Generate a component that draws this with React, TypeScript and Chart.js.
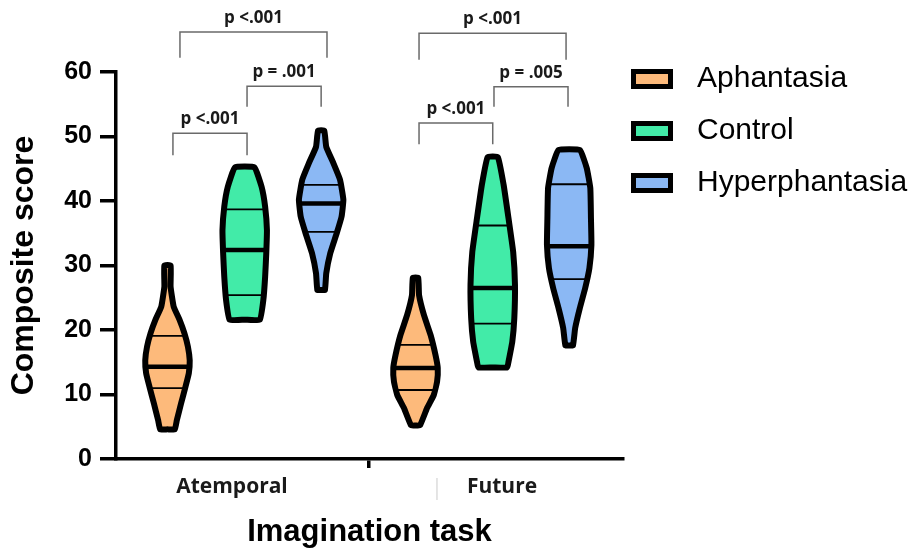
import React, { useEffect, useRef } from 'react';
import { Chart, registerables } from 'chart.js';

Chart.register(...registerables);

// ---------- categories ----------
const taskLabels = ['Atemporal', 'Future'];
const groupLabels = ['Aphantasia', 'Control', 'Hyperphantasia'];
const groupColors = ['#FDBA7B', '#42EBA8', '#8BB8F4'];

// x positions (axis units) of the task groups and group offsets
const taskCenters = [1.65, 4.83];
const groupOffsets = [-0.99, 0, 0.98];

// x-axis tick positions and labels
const xTickValues = [1.487, 3.244, 4.949];
const xTickLabels = ['Atemporal', '', 'Future'];

// ---------- violin profiles (score level -> relative density width) ----------
// Atemporal
const atemporalAphLevels = [4.6, 6.0, 8.6, 11.2, 13.3, 15.3, 17.4, 19.5, 21.6, 23.6, 26.7, 30.0];
const atemporalAphDensity = [0.33, 0.42, 0.61, 0.81, 0.96, 1.0, 0.92, 0.76, 0.54, 0.28, 0.14, 0.14];
const atemporalAphQuartiles = [11.0, 14.3, 19.1];

const atemporalCtrlLevels = [21.6, 24.7, 28.3, 31.9, 35.5, 39.1, 42.2, 45.2];
const atemporalCtrlDensity = [0.68, 0.84, 0.92, 0.97, 1.0, 0.92, 0.76, 0.44];
const atemporalCtrlQuartiles = [25.4, 32.4, 38.7];

const atemporalHypLevels = [26.2, 28.8, 31.9, 35.0, 37.6, 40.2, 43.3, 45.8, 48.4, 50.9];
const atemporalHypDensity = [0.17, 0.23, 0.41, 0.7, 0.92, 1.0, 0.85, 0.56, 0.23, 0.14];
const atemporalHypQuartiles = [35.2, 39.6, 42.5];

// Future
const futureAphLevels = [5.2, 7.9, 9.9, 12.0, 14.1, 16.1, 19.2, 22.3, 25.4, 28.1];
const futureAphDensity = [0.2, 0.52, 0.82, 0.97, 1.0, 0.9, 0.68, 0.38, 0.16, 0.12];
const futureAphQuartiles = [10.7, 14.1, 17.7];

const futureCtrlLevels = [14.2, 15.1, 18.2, 21.8, 27.0, 32.1, 37.3, 42.5, 46.8];
const futureCtrlDensity = [0.65, 0.71, 0.88, 0.97, 1.0, 0.92, 0.71, 0.49, 0.23];
const futureCtrlQuartiles = [21.0, 26.5, 36.2];

const futureHypLevels = [17.6, 20.3, 23.4, 26.5, 29.6, 33.2, 37.3, 42.0, 45.1, 47.9];
const futureHypDensity = [0.17, 0.27, 0.48, 0.72, 0.91, 1.0, 0.98, 0.95, 0.79, 0.48];
const futureHypQuartiles = [27.9, 33.0, 42.6];

// ---------- significance brackets ----------
const bracketX1 = [0.82, 1.68, 0.73, 3.885, 4.846, 3.885];
const bracketX2 = [2.705, 2.63, 1.68, 5.77, 5.795, 4.83];
const bracketTop = [66.2, 57.8, 50.5, 66.0, 57.7, 52.1];
const bracketBottom = [62.2, 54.6, 47.1, 61.9, 54.6, 48.8];
const bracketLabels = ['p <.001', 'p = .001', 'p <.001', 'p <.001', 'p = .005', 'p <.001'];

// ---------- build violins ----------
const VIOLIN_HALF_WIDTH = 0.285;

const violinTable = [
  { task: 0, group: 0, levels: atemporalAphLevels, density: atemporalAphDensity, quartiles: atemporalAphQuartiles },
  { task: 0, group: 1, levels: atemporalCtrlLevels, density: atemporalCtrlDensity, quartiles: atemporalCtrlQuartiles },
  { task: 0, group: 2, levels: atemporalHypLevels, density: atemporalHypDensity, quartiles: atemporalHypQuartiles },
  { task: 1, group: 0, levels: futureAphLevels, density: futureAphDensity, quartiles: futureAphQuartiles },
  { task: 1, group: 1, levels: futureCtrlLevels, density: futureCtrlDensity, quartiles: futureCtrlQuartiles },
  { task: 1, group: 2, levels: futureHypLevels, density: futureHypDensity, quartiles: futureHypQuartiles },
];

function outline(center: number, levels: number[], density: number[]) {
  const pts: { x: number; y: number }[] = [];
  pts.push({ x: center, y: levels[0] });
  for (let i = 0; i < levels.length; i++) {
    pts.push({ x: center + density[i] * VIOLIN_HALF_WIDTH, y: levels[i] });
  }
  for (let i = levels.length - 1; i >= 0; i--) {
    pts.push({ x: center - density[i] * VIOLIN_HALF_WIDTH, y: levels[i] });
  }
  pts.push({ x: center, y: levels[0] });
  return pts;
}

const datasets = violinTable.map((v) => {
  const center = taskCenters[v.task] + groupOffsets[v.group];
  return {
    type: 'line' as const,
    label: `${taskLabels[v.task]} – ${groupLabels[v.group]}`,
    data: outline(center, v.levels, v.density),
    borderColor: '#000',
    borderWidth: 6,
    backgroundColor: groupColors[v.group],
    fill: 'shape' as any,
    tension: 0.12,
    pointRadius: 0,
    pointHoverRadius: 0,
    borderJoinStyle: 'round' as const,
    borderCapStyle: 'round' as const,
    center,
    quartiles: v.quartiles,
  };
});

const violinDetailPlugin = {
  id: 'violinDetails',
  afterDatasetsDraw(chart: any) {
    const { ctx } = chart;
    const xs = chart.scales.x;
    const ys = chart.scales.y;
    chart.data.datasets.forEach((ds: any, i: number) => {
      const meta = chart.getDatasetMeta(i);
      const line = meta.dataset;
      if (!line) return;
      ctx.save();
      ctx.beginPath();
      line.path(ctx);
      ctx.closePath();
      ctx.clip();
      const cx = xs.getPixelForValue(ds.center);
      ds.quartiles.forEach((q: number, k: number) => {
        const py = ys.getPixelForValue(q);
        ctx.lineWidth = k === 1 ? 4.5 : 1.8;
        ctx.strokeStyle = '#000';
        ctx.beginPath();
        ctx.moveTo(cx - 40, py);
        ctx.lineTo(cx + 40, py);
        ctx.stroke();
      });
      ctx.restore();
    });
  },
  afterDraw(chart: any) {
    const { ctx } = chart;
    const xs = chart.scales.x;
    const ys = chart.scales.y;
    // significance brackets
    ctx.save();
    for (let i = 0; i < bracketLabels.length; i++) {
      const x1 = xs.getPixelForValue(bracketX1[i]);
      const x2 = xs.getPixelForValue(bracketX2[i]);
      const yt = ys.getPixelForValue(bracketTop[i]);
      const yb = ys.getPixelForValue(bracketBottom[i]);
      ctx.strokeStyle = '#6a6a6a';
      ctx.lineWidth = 1.5;
      ctx.beginPath();
      ctx.moveTo(x1, yb);
      ctx.lineTo(x1, yt);
      ctx.lineTo(x2, yt);
      ctx.lineTo(x2, yb);
      ctx.stroke();
      ctx.fillStyle = '#1a1a1a';
      ctx.font = 'bold 17px "Open Sans", "Noto Sans", sans-serif';
      ctx.textAlign = 'center';
      ctx.textBaseline = 'middle';
      ctx.fillText(bracketLabels[i], (x1 + x2) / 2, yt - 14);
    }
    // faint separator mark near the second task label
    const gx = xs.getPixelForValue(4.115);
    ctx.strokeStyle = '#dcdcdc';
    ctx.lineWidth = 1.5;
    ctx.beginPath();
    ctx.moveTo(gx, xs.top + 19);
    ctx.lineTo(gx, xs.top + 41);
    ctx.stroke();
    // legend
    groupLabels.forEach((label, i) => {
      const cy = 79 + i * 52;
      ctx.fillStyle = groupColors[i];
      ctx.fillRect(633.5, cy - 7.5, 37, 15);
      ctx.lineWidth = 5;
      ctx.strokeStyle = '#000';
      ctx.strokeRect(633.5, cy - 7.5, 37, 15);
      ctx.fillStyle = '#000';
      ctx.font = '30px "Liberation Sans", Arial, sans-serif';
      ctx.textAlign = 'left';
      ctx.textBaseline = 'middle';
      ctx.fillText(label, 697, cy);
    });
    ctx.restore();
  },
};

export default function App() {
  const canvasRef = useRef<HTMLCanvasElement>(null);

  useEffect(() => {
    if (!canvasRef.current) return;
    const chart = new Chart(canvasRef.current, {
      type: 'line',
      data: { datasets: datasets as any },
      options: {
        animation: false,
        responsive: true,
        maintainAspectRatio: false,
        events: [],
        layout: { padding: { left: 0, top: 72, right: 293, bottom: 0 } },
        plugins: {
          legend: { display: false },
          tooltip: { enabled: false },
        },
        scales: {
          x: {
            type: 'linear',
            min: 0,
            max: 6.5,
            afterBuildTicks: (s: any) => {
              s.ticks = xTickValues.map((v) => ({ value: v }));
            },
            afterFit: (s: any) => {
              s.height = 94;
            },
            ticks: {
              autoSkip: false,
              maxRotation: 0,
              minRotation: 0,
              padding: 6,
              color: '#1a1a1a',
              font: { family: '"Open Sans", "Noto Sans", sans-serif', size: 21, weight: 'bold' },
              callback: (_v: any, i: number) => xTickLabels[i],
            },
            grid: {
              drawOnChartArea: false,
              tickLength: 9,
              tickWidth: 3.5,
              lineWidth: 3.5,
              tickColor: (c: any) => (c.index === 1 ? '#000' : 'rgba(0,0,0,0)'),
            },
            border: { color: '#000', width: 3.5 },
            title: {
              display: true,
              text: 'Imagination task',
              color: '#000',
              font: { family: '"Liberation Sans", Arial, sans-serif', size: 31, weight: 'bold' },
              padding: { top: 0, bottom: 2 },
            },
          },
          y: {
            type: 'linear',
            min: 0,
            max: 60,
            afterFit: (s: any) => {
              s.width = 116;
            },
            ticks: {
              stepSize: 10,
              padding: 8,
              color: '#000',
              font: { family: '"Liberation Sans", Arial, sans-serif', size: 25, weight: 'bold' },
            },
            grid: {
              drawOnChartArea: false,
              color: '#000',
              tickLength: 16,
              tickWidth: 3.5,
              lineWidth: 3.5,
            },
            border: { color: '#000', width: 3.5 },
            title: {
              display: true,
              text: 'Composite score',
              color: '#000',
              font: { family: '"Liberation Sans", Arial, sans-serif', size: 32, weight: 'bold' },
              padding: { top: 5, bottom: 0 },
            },
          },
        },
      },
      plugins: [violinDetailPlugin],
    });
    return () => chart.destroy();
  }, []);

  return (
    <div style={{ position: 'absolute', left: 0, top: 0, width: 916, height: 553, background: '#fff' }}>
      <canvas ref={canvasRef} />
    </div>
  );
}
